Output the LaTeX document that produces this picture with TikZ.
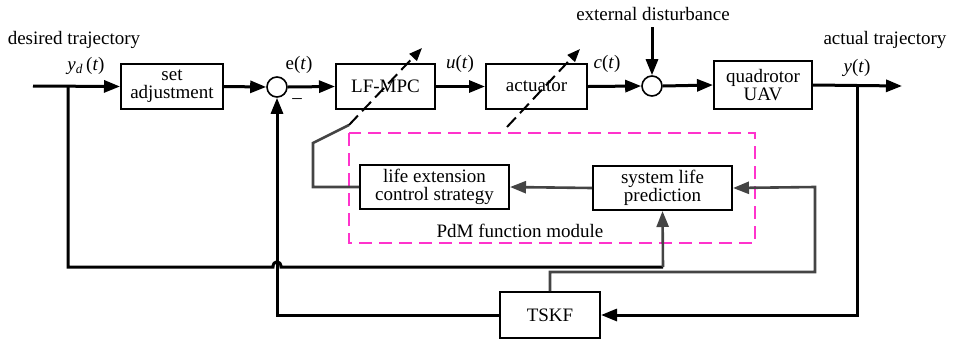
\documentclass[tikz,border=0pt]{standalone}
\usepackage{fontspec}
\setmainfont{Liberation Serif}
\usetikzlibrary{arrows.meta}
\definecolor{dgray}{HTML}{444444}
\definecolor{pdm}{HTML}{FF33CC}
\begin{document}
\begin{tikzpicture}[x=1pt,y=-1pt,
  font=\fontsize{19}{21}\selectfont,
  blk/.style={draw,line width=2pt,minimum width=#1,minimum height=45pt,inner sep=1pt,align=center,fill=white},
  sumc/.style={draw,circle,line width=1.6pt,minimum size=20pt,inner sep=0pt,fill=white},
  sig/.style={line width=3pt,-{Triangle[length=16pt,width=12pt]}},
  sign/.style={line width=3pt},
  gsig/.style={dgray,line width=2.6pt,-{Triangle[length=16pt,width=12pt]}},
  gline/.style={dgray,line width=2.6pt},
  varr/.style={line width=2pt,dash pattern=on 13pt off 6pt,-{Triangle[length=13pt,width=10pt]}},
  lbl/.style={inner sep=0pt}]
\useasboundingbox (0,0) rectangle (953,341);
% PdM module
\draw[pdm,line width=2.6pt,dash pattern=on 13pt off 7pt] (349,133) rectangle (755,243);
\node[lbl] (pdmlbl) at (520,231) {PdM function module};
% blocks
\node[blk=102pt] (set) at (172,86.5) {set\\[-3pt]adjustment};
\node[sumc] (s1) at (277,87) {};
\node[blk=99pt] (mpc) at (385.5,86.5) {LF-MPC};
\node[blk=101pt] (act) at (536.5,86.5) {actuator};
\node[sumc] (s2) at (652,86) {};
\node[blk=98pt,minimum height=48pt] (uav) at (763,85) {quadrotor\\[-3pt]UAV};
\node[blk=149pt,minimum height=44pt] (lecs) at (434.5,187) {life extension\\[-3pt]control strategy};
\node[blk=139pt,minimum height=44pt] (slp) at (662.5,188) {system life\\[-3pt]prediction};
\node[blk=100pt,minimum height=46pt] (tskf) at (550,315) {TSKF};
% coordinates
\coordinate (in) at (33,86);
\coordinate (out) at (902,86);
\coordinate (dist) at (652,27);
\coordinate (b1) at (68,86);
\coordinate (b2) at (857,86);
% main path
\draw[sig] (in) -- (set.west);
\draw[sig] (set.east) -- (s1.west);
\draw[sig] (s1.east) -- (mpc.west);
\draw[sig] (mpc.east) -- (act.west);
\draw[sig] (act.east) -- (s2.west);
\draw[sig] (dist) -- (s2.north);
\draw[sig] (s2.east) -- (uav.west);
\draw[sig] (uav.east) -- (out);
% feedback
\draw[sig] (b2) -- (857,315) -- (tskf.east);
\draw[sig] (tskf.west) -- (277,315) -- (s1.south);
% branch to life prediction with hop
\draw[sign,line join=miter] (b1) -- (68,267) -- (273,267) .. controls (273,260) and (281,260) .. (281,267) -- (663,267);
\draw[gsig] (663,267) -- (slp.south);
% TSKF to life prediction
\draw[gsig] (tskf.north) -- (550,272) -- (815,272) -- (815,187) -- (slp.east);
% life prediction to strategy
\draw[gsig] (slp.west) -- (lecs.east);
\draw[gline] (lecs.west) -- (313,187) -- (313,143) -- (349,125);
% variable parameter arrows
\draw[varr] (349,125) -- (422,48);
\draw[varr] (507,127) -- (580,49);
% labels
\node[lbl] (l1) at (74,40) {desired trajectory};
\node[lbl] (l2) at (86,66) {\textit{y}\textsubscript{\textit{d}}\,(\textit{t})};
\node[lbl] (l3) at (299,65) {e(\textit{t})};
\node[lbl] (l4) at (297,101) {–};
\node[lbl] (l5) at (460,64) {\textit{u}(\textit{t})};
\node[lbl] (l6) at (607,64) {\textit{c}(\textit{t})};
\node[lbl] (l7) at (653,14) {external disturbance};
\node[lbl] (l8) at (885,40) {actual trajectory};
\node[lbl] (l9) at (857,68) {\textit{y}(\textit{t})};
\end{tikzpicture}
\end{document}
